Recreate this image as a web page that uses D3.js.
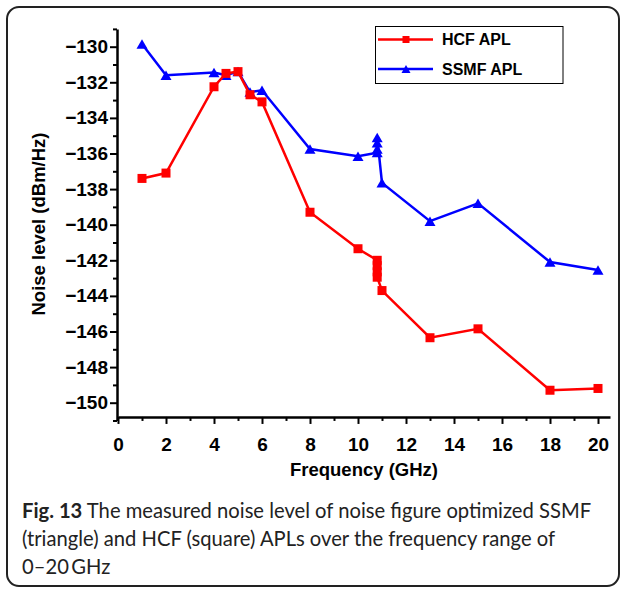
<!DOCTYPE html>
<html>
<head>
<meta charset="utf-8">
<script src="https://cdn.jsdelivr.net/npm/d3@7"></script>
<style>
  body { margin: 0; background: #fff; }
  svg { display: block; }
  .axis text { font-family: "Liberation Sans", Arial, sans-serif; font-weight: bold; font-size: 19px; fill: #000; }
</style>
</head>
<body>
<div id="viz"></div>
<script>
// frequencies (GHz) and noise levels (dBm/Hz)
const freqHCF = [1, 2, 4, 4.5, 5, 5.5, 6, 8, 10, 10.8, 10.8, 10.8, 10.8, 11, 13, 15, 18, 20]
const hcfAPL = [-137.4, -137.1, -132.25, -131.5, -131.4, -132.7, -133.1, -139.3, -141.35, -142.0, -142.3, -142.65, -142.95, -143.7, -146.35, -145.85, -149.3, -149.2]

const freqSSMF = [1, 2, 4, 4.5, 5, 5.5, 6, 8, 10, 10.8, 10.8, 10.8, 10.8, 11, 13, 15, 18, 20]
const ssmfAPL = [-129.85, -131.6, -131.45, -131.6, -131.4, -132.55, -132.45, -135.75, -136.15, -135.95, -135.75, -135.4, -135.1, -137.65, -139.8, -138.8, -142.1, -142.55]

const xTicks = [0, 2, 4, 6, 8, 10, 12, 14, 16, 18, 20]
const xMinor = [1, 3, 5, 7, 9, 11, 13, 15, 17, 19]
const yTicks = [-150, -148, -146, -144, -142, -140, -138, -136, -134, -132, -130]
const yMinor = [-151, -149, -147, -145, -143, -141, -139, -137, -135, -133, -131, -129]

const seriesNames = ["HCF APL", "SSMF APL"]
const captionLines = [
  ["Fig. 13", " The measured noise level of noise figure optimized SSMF"],
  ["", "(triangle) and HCF (square) APLs over the frequency range of"],
  ["", "0\u201320\u2009GHz"]
]

const width = 625
const height = 592

const svg = d3.select("#viz").append("svg").attr("width", width).attr("height", height)

// rounded frame around figure + caption
svg.append("rect")
  .attr("x", 7).attr("y", 7).attr("width", 612).attr("height", 579)
  .attr("rx", 12)
  .attr("fill", "none").attr("stroke", "#222").attr("stroke-width", 2)

const xScale = d3.scaleLinear().domain([0, 20.5]).range([118, 610])
const yScale = d3.scaleLinear().domain([-151, -129]).range([420.5, 28.9])
const xAxisY = yScale(-150.8)

// axes
const yAxis = svg.append("g").attr("class", "axis").attr("transform", "translate(117,0)")
  .call(d3.axisLeft(yScale).tickValues(yTicks).tickSize(7).tickSizeOuter(0).tickPadding(2))
yAxis.select(".domain").attr("stroke-width", 2.5)
yAxis.selectAll(".tick line").attr("stroke-width", 2)

svg.append("g").attr("transform", "translate(117,0)")
  .call(d3.axisLeft(yScale).tickValues(yMinor).tickSize(4).tickSizeOuter(0).tickFormat(""))
  .call(g => g.select(".domain").remove())
  .selectAll(".tick line").attr("stroke-width", 2)

const xAxis = svg.append("g").attr("class", "axis").attr("transform", `translate(0,${xAxisY})`)
  .call(d3.axisBottom(xScale).tickValues(xTicks).tickSize(7).tickSizeOuter(0).tickPadding(14))
xAxis.select(".domain").attr("stroke-width", 2.5)
xAxis.selectAll(".tick line").attr("stroke-width", 2)

svg.append("g").attr("transform", `translate(0,${xAxisY})`)
  .call(d3.axisBottom(xScale).tickValues(xMinor).tickSize(4).tickSizeOuter(0).tickFormat(""))
  .call(g => g.select(".domain").remove())
  .selectAll(".tick line").attr("stroke-width", 2)

// axis titles
svg.append("text")
  .attr("x", 364).attr("y", 476)
  .attr("text-anchor", "middle")
  .style("font-family", "'Liberation Sans', Arial, sans-serif").style("font-weight", "bold").style("font-size", "18.5px")
  .text("Frequency (GHz)")

svg.append("text")
  .attr("transform", "translate(45,224) rotate(-90)")
  .attr("text-anchor", "middle")
  .style("font-family", "'Liberation Sans', Arial, sans-serif").style("font-weight", "bold").style("font-size", "18.5px")
  .text("Noise level (dBm/Hz)")

// lines + markers
const line = d3.line().x(d => xScale(d[0])).y(d => yScale(d[1]))
const hcfData = freqHCF.map((f, i) => [f, hcfAPL[i]])
const ssmfData = freqSSMF.map((f, i) => [f, ssmfAPL[i]])

const triangle = (cx, cy, w, h) => `M${cx},${cy - h / 2}L${cx + w / 2},${cy + h / 2}L${cx - w / 2},${cy + h / 2}Z`

svg.append("path").datum(ssmfData)
  .attr("d", line).attr("fill", "none").attr("stroke", "#0000ff").attr("stroke-width", 2.5)
svg.append("g").selectAll("path")
  .data(ssmfData)
  .join("path")
  .attr("d", d => triangle(xScale(d[0]), yScale(d[1]), 11, 9.5))
  .attr("fill", "#0000ff")

svg.append("path").datum(hcfData)
  .attr("d", line).attr("fill", "none").attr("stroke", "#ff0000").attr("stroke-width", 2.5)
svg.append("g").selectAll("rect")
  .data(hcfData)
  .join("rect")
  .attr("x", d => xScale(d[0]) - 4.5)
  .attr("y", d => yScale(d[1]) - 4.5)
  .attr("width", 9).attr("height", 9)
  .attr("fill", "#ff0000")

// legend
const legend = svg.append("g")
legend.append("rect")
  .attr("x", 375.5).attr("y", 26.5).attr("width", 187.5).attr("height", 57)
  .attr("fill", "#fff").attr("stroke", "#000").attr("stroke-width", 1)

const legendColors = ["#ff0000", "#0000ff"]
seriesNames.forEach((name, i) => {
  const ly = 39.5 + i * 29.5
  legend.append("line").attr("x1", 378).attr("x2", 433).attr("y1", ly).attr("y2", ly)
    .attr("stroke", legendColors[i]).attr("stroke-width", 2.5)
  if (i === 0) {
    legend.append("rect").attr("x", 402.5).attr("y", ly - 3.5).attr("width", 7).attr("height", 7).attr("fill", legendColors[i])
  } else {
    legend.append("path").attr("d", triangle(406, ly, 9, 8)).attr("fill", legendColors[i])
  }
  legend.append("text").attr("x", 442).attr("y", ly + 5.8)
    .style("font-family", "'Liberation Sans', Arial, sans-serif").style("font-weight", "bold").style("font-size", "16px")
    .text(name)
})

// caption, one text per line
captionLines.forEach((parts, i) => {
  const t = svg.append("text")
    .attr("x", 22).attr("y", 518 + i * 28)
    .style("font-family", "Lato, sans-serif").style("font-size", "20.2px").attr("fill", "#222")
  if (parts[0]) t.append("tspan").style("font-weight", "bold").text(parts[0])
  t.append("tspan").text(parts[1])
})
</script>
</body>
</html>
